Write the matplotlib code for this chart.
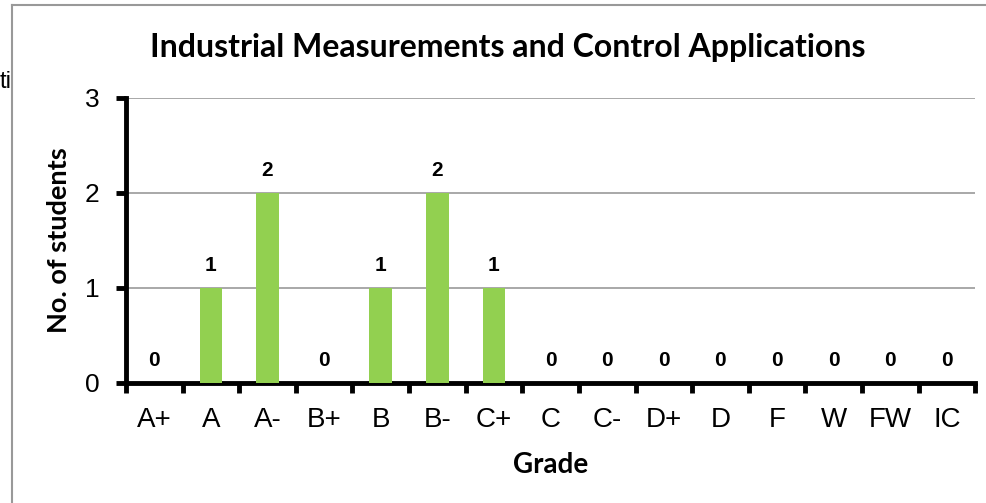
import matplotlib.pyplot as plt
import numpy as np
from matplotlib.lines import Line2D

plt.rcParams['font.family'] = ['Liberation Sans', 'DejaVu Sans']

grades = ['A+', 'A', 'A-', 'B+', 'B', 'B-', 'C+', 'C', 'C-', 'D+', 'D', 'F', 'W', 'FW', 'IC']
students = [0, 1, 2, 0, 1, 2, 1, 0, 0, 0, 0, 0, 0, 0, 0]
yticks = [0, 1, 2, 3]

fig = plt.figure(figsize=(9.87, 5.03), dpi=100)
ax = fig.add_axes([0.1277, 0.2386, 0.8603, 0.5666])

x = np.arange(len(grades))
ax.bar(x, students, width=0.4, color='#92D050', zorder=3)
for xi, v in zip(x, students):
    ax.annotate(str(v), (xi, v), xytext=(0, 9), textcoords='offset points',
                ha='center', va='bottom', fontsize=15, fontweight='bold')

ax.set_xlim(-0.5, len(grades) - 0.5)
ax.set_ylim(0, 3)
ax.set_yticks(yticks)
ax.yaxis.grid(True, color='#999999', linewidth=1.2, zorder=0)

# tick marks at category boundaries, labels at centres
ax.set_xticks(np.arange(-0.5, len(grades), 1.0))
ax.set_xticklabels([])
ax.set_xticks(x, minor=True)
ax.set_xticklabels(grades, minor=True)
ax.tick_params(axis='x', which='major', direction='out', length=7, width=3.5, color='black')
ax.tick_params(axis='x', which='minor', length=0, pad=17, labelsize=20)
ax.tick_params(axis='y', direction='out', length=7, width=3.5, color='black', pad=12,
               labelsize=19)

for s in ['top', 'right']:
    ax.spines[s].set_visible(False)
for s in ['left', 'bottom']:
    ax.spines[s].set_linewidth(3.5)

ax.set_xlabel('Grade', fontsize=20, fontweight='bold', family='Lato', labelpad=14)
ax.set_ylabel('No. of students', fontsize=19.5, fontweight='bold', family='Lato', labelpad=10)
fig.text(0.514, 0.906, 'Industrial Measurements and Control Applications', ha='center',
         va='center', fontsize=23, fontweight='bold', family='Lato')

# outer chart border
fig.add_artist(Line2D([12 / 987, 12 / 987], [0, 1 - 5 / 503], color='#999999', lw=1.5,
                      transform=fig.transFigure))
fig.add_artist(Line2D([12 / 987, 1], [1 - 5 / 503, 1 - 5 / 503], color='#999999', lw=1.5,
                      transform=fig.transFigure))
fig.text(0.0, 1 - 82 / 503, 'ti', ha='left', va='center', fontsize=17)

fig.savefig('out.png', dpi=100)
